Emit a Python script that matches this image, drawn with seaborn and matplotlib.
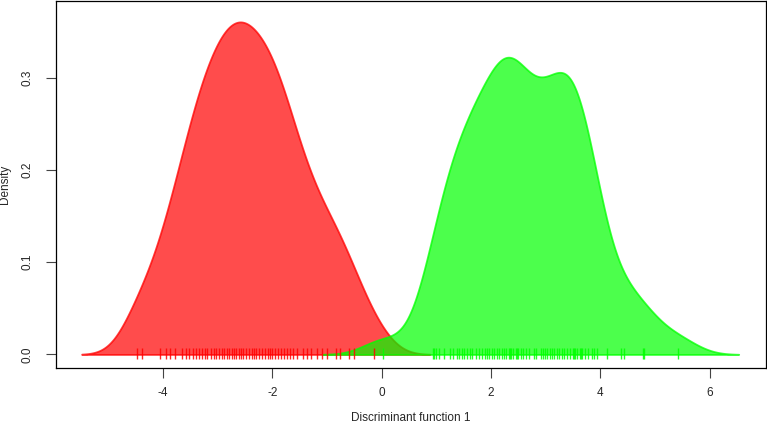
import numpy as np
import pandas as pd
import matplotlib
matplotlib.use('Agg')
import matplotlib.pyplot as plt
import seaborn as sns

# discriminant scores
group1_scores = [-4.47, -4.39, -4.05, -3.95, -3.88, -3.78, -3.65, -3.58, -3.52, -3.46,
                 -3.40, -3.35, -3.29, -3.24, -3.19, -3.12, -3.07, -3.03, -2.98, -2.93,
                 -2.89, -2.84, -2.79, -2.74, -2.70, -2.66, -2.62, -2.58, -2.53, -2.48,
                 -2.43, -2.38, -2.34, -2.30, -2.25, -2.20, -2.14, -2.09, -2.05, -2.01,
                 -1.95, -1.90, -1.84, -1.79, -1.74, -1.68, -1.62, -1.55, -1.45, -1.37,
                 -1.29, -1.18, -1.09, -1.00, -0.84, -0.76, -0.60, -0.50, -0.14]
group2_scores = [0.03, 0.93, 0.96, 1.00, 1.04, 1.14, 1.24, 1.31, 1.38, 1.42,
                 1.47, 1.51, 1.56, 1.61, 1.66, 1.73, 1.78, 1.83, 1.88, 1.93,
                 1.97, 2.02, 2.06, 2.11, 2.15, 2.20, 2.24, 2.28, 2.32, 2.35,
                 2.37, 2.41, 2.45, 2.47, 2.49, 2.54, 2.59, 2.64, 2.70, 2.79,
                 2.83, 2.91, 2.95, 2.99, 3.03, 3.08, 3.12, 3.16, 3.20, 3.25,
                 3.30, 3.34, 3.39, 3.45, 3.49, 3.52, 3.54, 3.58, 3.62, 3.65,
                 3.67, 3.72, 3.78, 3.84, 3.88, 3.93, 4.12, 4.38, 4.44, 4.78,
                 4.80, 5.42]

x_ticks = [-4, -2, 0, 2, 4, 6]
y_ticks = [0.0, 0.1, 0.2, 0.3]

sns.set_style('white')
plt.rcParams['font.family'] = ['Liberation Sans', 'DejaVu Sans']

fig, ax = plt.subplots(figsize=(7.67, 4.23), dpi=100)
fig.subplots_adjust(left=56/767, right=766/767, bottom=1-368/423, top=1-1/423)

groups = [(group1_scores, '#ff0000', 0.34), (group2_scores, '#00ff00', 0.37)]
for scores, col, bw in groups:
    s = pd.Series(scores)
    sns.kdeplot(x=s, ax=ax, fill=True, color=col, alpha=0.7, cut=3, gridsize=512,
                bw_method=bw / s.std(), linewidth=1.3,
                edgecolor=matplotlib.colors.to_rgba(col, 0.75))
for scores, col, bw in groups:
    ax.vlines(scores, -0.0045, 0.0075, color=col, linewidth=1, alpha=0.85)

ax.set_xlim(-5.96, 7.03)
ax.set_ylim(-0.0147, 0.383)
ax.set_xticks(x_ticks)
ax.set_xticklabels([str(t) for t in x_ticks])
ax.set_yticks(y_ticks)
ax.set_yticklabels([f'{t:.1f}' for t in y_ticks], rotation=90, va='center')
ax.tick_params(axis='both', direction='out', length=7, width=0.8, color='#444444',
               labelsize=8.5, pad=7, bottom=True, left=True)
ax.tick_params(axis='y', pad=9)
ax.set_xlabel('Discriminant function 1', fontsize=8.5, labelpad=9)
ax.set_ylabel('Density', fontsize=8.5, labelpad=8)
for sp in ax.spines.values():
    sp.set_color('black')
    sp.set_linewidth(0.9)

fig.savefig('out.png', dpi=100)
